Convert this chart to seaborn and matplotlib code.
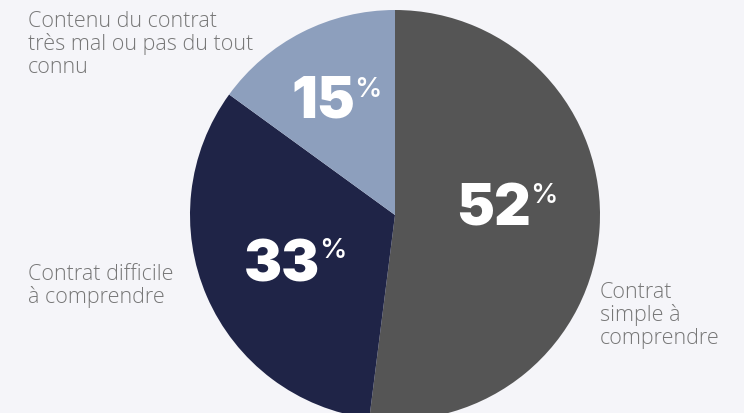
import matplotlib
matplotlib.use("Agg")
import matplotlib.pyplot as plt
import seaborn as sns

# ---- data ----
categories = ["Contrat\nsimple à\ncomprendre",
              "Contrat difficile\nà comprendre",
              "Contenu du contrat\ntrès mal ou pas du tout\nconnu"]
values = [52, 33, 15]
pct_labels = ["52", "33", "15"]
colors = ["#555555", "#1f2447", "#8d9fbd"]

sns.set_theme(style="white")
plt.rcParams["font.family"] = ["Open Sans", "DejaVu Sans"]

W, H = 744, 413
fig = plt.figure(figsize=(W / 100, H / 100), dpi=100)
bg = "#f5f5f9"
fig.patch.set_facecolor(bg)
ax = fig.add_axes([0, 0, 1, 1])
ax.set_facecolor(bg)

cx, cy, R = 395, H - 215, 205
ax.pie(values, colors=colors, startangle=90, counterclock=False,
       radius=R, center=(cx, cy), wedgeprops=dict(linewidth=0))
ax.set_xlim(0, W)
ax.set_ylim(0, H)
ax.set_axis_off()

# percentage labels: (right edge of digits, baseline, top of % sign)
num_pos = [(531, 225, 183), (320, 282, 238), (355, 117, 77)]
for lab, (xr, yb, yt) in zip(pct_labels, num_pos):
    ax.text(xr, H - yb, lab, ha="right", va="baseline", color="white",
            fontsize=41, fontweight="black", family=["Inter", "DejaVu Sans"])
    ax.text(xr - 1, H - yt, "%", ha="left", va="top", color="white",
            fontsize=20, fontweight="medium", family=["Inter", "DejaVu Sans"])

# category labels (left x, top y)
cat_pos = [(600, 282), (28, 264), (28, 11)]
for lab, (x, y) in zip(categories, cat_pos):
    ax.text(x, H - y, lab, ha="left", va="top", color="#777777",
            fontsize=15.5, fontweight="light", linespacing=1.08)

fig.savefig("out.png", dpi=100, facecolor=bg)
